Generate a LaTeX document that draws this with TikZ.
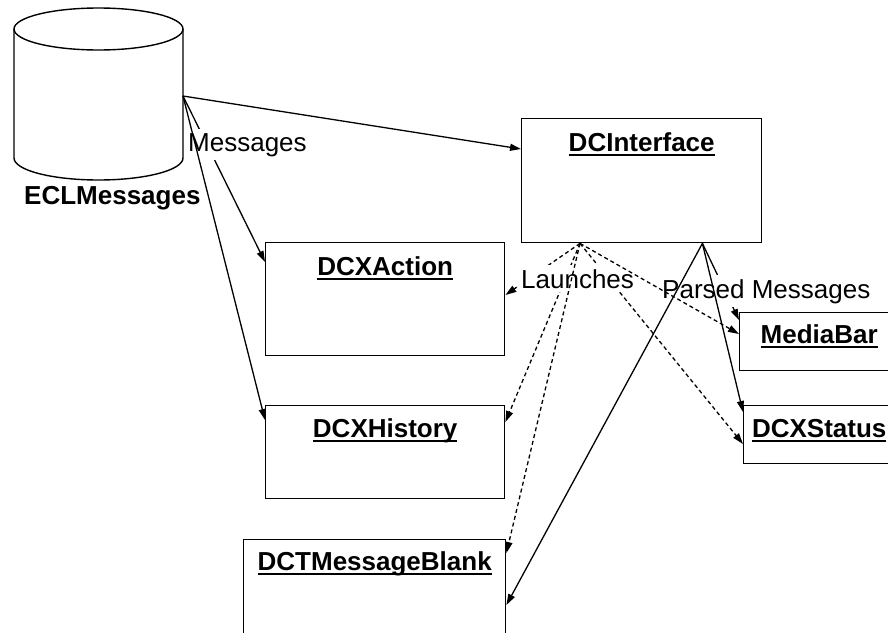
\documentclass[tikz,border=0pt]{standalone}
\usepackage{fontspec}
\setmainfont{Liberation Sans}
\usetikzlibrary{arrows.meta}
% bold object name with a fixed underline
\newcommand{\objname}[1]{\sbox0{#1}\rlap{\usebox0}\rule[-5pt]{\wd0}{1.7pt}}

\begin{document}
\begin{tikzpicture}[x=1pt,y=-1pt,
  every node/.style={font=\fontsize{26}{30}\selectfont},
  box/.style={draw, line width=1.4pt, inner sep=0pt, anchor=north west, fill=white},
  title/.style={anchor=base, inner sep=0pt, font=\fontsize{26}{30}\selectfont\bfseries},
  conn/.style={line width=1.3pt, -{Triangle[length=11pt,width=7pt]}},
  launch/.style={conn, dash pattern=on 4pt off 3pt},
  lbl/.style={fill=white, inner xsep=2pt, inner ysep=4pt, anchor=base west}]

\useasboundingbox (0,0) rectangle (888,632);
\clip (0,0) rectangle (888,632);
\fill[white] (0,0) rectangle (888,632);

% message store
\draw[line width=1.4pt, fill=white] (14,29) -- (14,158)
  arc[start angle=180, end angle=0, x radius=84.5, y radius=22]
  -- (183,29) arc[start angle=0, end angle=-180, x radius=84.5, y radius=21] -- cycle;
\draw[line width=1.4pt] (14,29) arc[start angle=180, end angle=0, x radius=84.5, y radius=21];
\node[anchor=base west, inner sep=0pt, font=\fontsize{26}{30}\selectfont\bfseries] (ecl) at (24,204) {ECLMessages};
\coordinate (port) at (183,96);

% objects
\node[box, minimum width=240pt, minimum height=124pt] (DI) at (521,118) {};
\node[box, minimum width=239pt, minimum height=113pt] (DA) at (265,242) {};
\node[box, minimum width=239pt, minimum height=93pt]  (DH) at (265,405) {};
\node[box, minimum width=262pt, minimum height=110pt] (DB) at (243,539) {};
\node[box, minimum width=159pt, minimum height=58pt]  (MB) at (739,312) {};
\node[box, minimum width=151pt, minimum height=58pt]  (DS) at (743,405) {};

\node[title] (tDI) at ([yshift=-33pt]DI.north) {\objname{DCInterface}};
\node[title] (tDA) at ([yshift=-33pt]DA.north) {\objname{DCXAction}};
\node[title] (tDH) at ([yshift=-32pt]DH.north) {\objname{DCXHistory}};
\node[title] (tDB) at ([yshift=-31pt]DB.north) {\objname{DCTMessageBlank}};
\node[title] (tMB) at ([yshift=-31pt]MB.north) {\objname{MediaBar}};
\node[title] (tDS) at ([yshift=-32pt]DS.north) {\objname{DCXStatus}};

% messages from the store
\draw[conn] (port) -- ([yshift=-31pt]DI.north west);
\draw[conn] (port) -- ([yshift=-20pt]DA.north west);
\node[lbl] (msg) at (186,151) {Messages};
\draw[conn] (port) -- ([yshift=-15pt]DH.north west);

% parsed messages
\coordinate (pout) at ([xshift=-60pt]DI.south east);
\draw[conn] (pout) -- ([yshift=-8pt]MB.north west);
\node[lbl] (parsed) at (660,298) {Parsed Messages};

% launches
\coordinate (lout) at ([xshift=59pt]DI.south west);
\draw[launch] (lout) -- ([yshift=-53pt]DA.north east);
\draw[launch] (lout) -- ([yshift=-17pt]DH.north east);
\draw[launch] (lout) -- ([yshift=-39pt]DS.north west);
\node[lbl] (launches) at (519,288) {Launches};
\draw[launch] (lout) -- ([yshift=-14pt]DB.north east);
\draw[launch] (lout) -- ([yshift=-22pt]MB.north west);

\draw[conn] (pout) -- ([yshift=-7pt]DS.north west);
\draw[conn] (pout) -- ([yshift=-66pt]DB.north east);
\end{tikzpicture}
\end{document}
